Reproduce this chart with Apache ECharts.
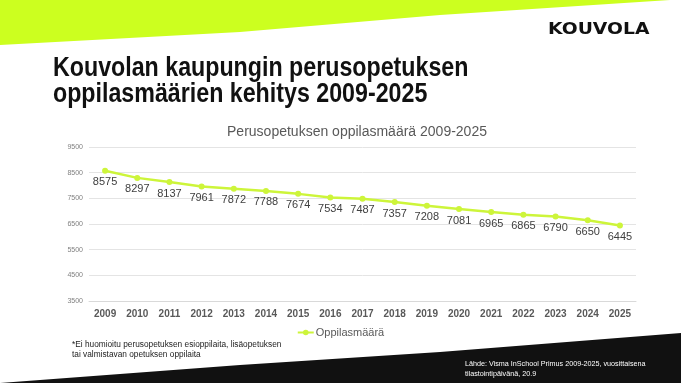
<!DOCTYPE html>
<html><head><meta charset="utf-8">
<script src="https://cdn.jsdelivr.net/npm/echarts@6/dist/echarts.min.js"></script>
<style>html,body{margin:0;padding:0;background:#fff}#c{width:681px;height:383px}</style>
</head><body><div id="c"></div>
<script>
const years = ['2009','2010','2011','2012','2013','2014','2015','2016','2017','2018','2019','2020','2021','2022','2023','2024','2025'];
const students = [8575,8297,8137,7961,7872,7788,7674,7534,7487,7357,7208,7081,6965,6865,6790,6650,6445];
const seriesName = 'Oppilasmäärä';
const yTicks = [3500,4500,5500,6500,7500,8500,9500];

const chart = echarts.init(document.getElementById('c'), null, {renderer:'canvas'});
const green = '#ccff1f';
const lineGreen = '#cdf53a';
const sans = '"Liberation Sans",Arial,sans-serif';
chart.setOption({
  animation:false,
  backgroundColor:'#fff',
  title:{text:'Perusopetuksen oppilasmäärä 2009-2025',left:352,textAlign:'center',top:120,
    textStyle:{fontFamily:sans,fontSize:14,fontWeight:'normal',color:'#595959'}},
  legend:{data:[seriesName],top:322,left:'center',itemWidth:16,itemHeight:7,itemGap:4,
    textStyle:{fontFamily:sans,fontSize:11,color:'#595959',padding:[0,0,0,-3]}},
  grid:{left:89,right:45,top:147,bottom:82,containLabel:false},
  xAxis:{type:'category',data:years,boundaryGap:true,
    axisLine:{lineStyle:{color:'#d9d9d9'}},axisTick:{show:false},
    axisLabel:{margin:8,fontFamily:sans,fontSize:10,fontWeight:'bold',color:'#595959'}},
  yAxis:{type:'value',min:yTicks[0],max:yTicks[yTicks.length-1],interval:1000,
    axisLine:{show:false},axisTick:{show:false},
    splitLine:{lineStyle:{color:'#e4e4e4'}},
    axisLabel:{margin:6,fontFamily:sans,fontSize:7,color:'#808080',formatter:v=>String(v)}},
  series:[{name:seriesName,type:'line',data:students,smooth:false,
    symbol:'circle',symbolSize:6,
    lineStyle:{color:lineGreen,width:2.5},itemStyle:{color:lineGreen},
    label:{show:true,position:'bottom',distance:3,fontFamily:sans,fontSize:11,color:'#404040',formatter:p=>String(p.value)}}],
  graphic:[
    {type:'polygon',silent:true,z:-1,shape:{points:[[0,0],[681,0],[681,0],[670,0],[440,15],[240,32],[0,45]]},style:{fill:green}},
    {type:'polygon',silent:true,z:-1,shape:{points:[[0,383],[240,365],[440,352],[681,333],[681,383]]},style:{fill:'#111111'}},
    {type:'text',left:548,top:23,scaleX:1.25,style:{text:'KOUVOLA',font:'900 15px "DejaVu Sans",sans-serif',fill:'#111'}},
    {type:'text',left:53,top:55,scaleX:0.86,style:{text:'Kouvolan kaupungin perusopetuksen\noppilasmäärien kehitys 2009-2025',
      font:'bold 27px '+sans,fill:'#111',lineHeight:26}},
    {type:'text',left:72,top:340,style:{text:'*Ei huomioitu perusopetuksen esioppilaita, lisäopetuksen\ntai valmistavan opetuksen oppilaita',
      font:'8.3px '+sans,fill:'#222',lineHeight:10}},
    {type:'text',left:465,top:359,style:{text:'Lähde: Visma InSchool Primus 2009-2025, vuosittaisena\ntilastointipäivänä, 20.9',
      font:'7.2px '+sans,fill:'#fff',lineHeight:10}}
  ]
});
</script></body></html>
